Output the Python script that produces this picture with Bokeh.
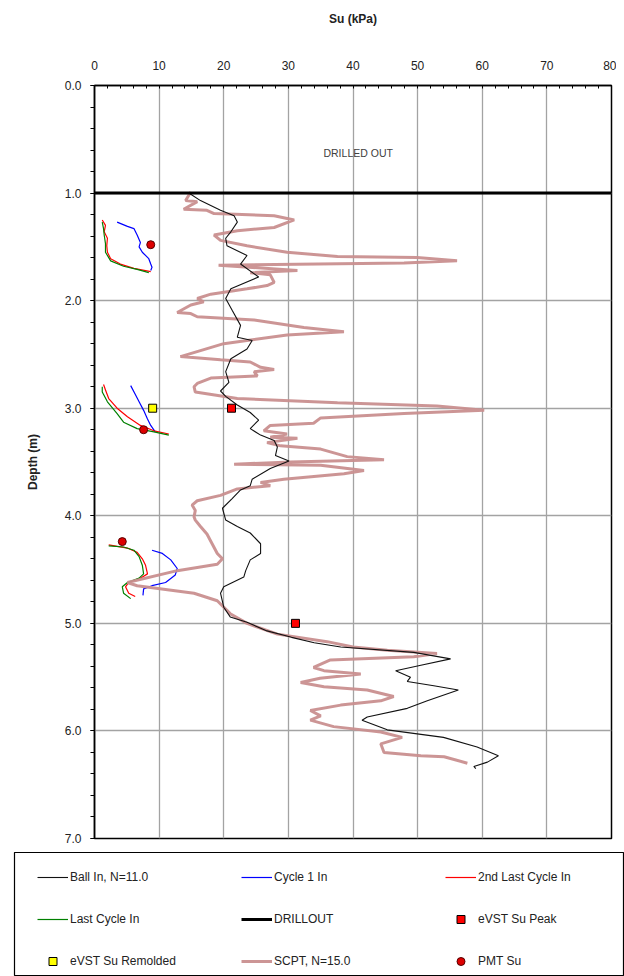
from bokeh.plotting import figure
from bokeh.models import (Range1d, SingleIntervalTicker, Legend, LegendItem,
                          PrintfTickFormatter)
from bokeh.layouts import column
from bokeh.core.properties import value
from bokeh.embed import file_html
from bokeh.resources import INLINE

nan = float("nan")

# ---------------- data ----------------
su_ticks = [0, 10, 20, 30, 40, 50, 60, 70, 80]
depth_ticks = [0.0, 1.0, 2.0, 3.0, 4.0, 5.0, 6.0, 7.0]

ball_su = [14.6, 16.4, 19.5, 21.6, 22.1, 21.1, 20.3, 20.5, 23.6, 22.6, 25.4, 21.1, 20.3,
           21.3, 22.6, 22.1, 24.4, 23.6, 21.1, 20.3, 20.8, 19.5, 20.3, 22.1, 24.1, 25.4,
           24.1, 25.7, 27.8, 28.3, 28.0, 30.1, 27.2, 24.4, 24.1, 22.6, 21.3, 19.8, 20.3,
           22.1, 24.1, 25.7, 25.7, 24.1, 23.4, 23.1, 20.0, 19.5, 20.0, 21.0, 23.6, 26.7,
           30.5, 34.0, 38.1, 49.4, 55.1, 50.5, 46.6, 48.9, 48.4, 52.5, 56.3, 51.5, 48.4,
           42.2, 41.4, 45.3, 54.0, 59.2, 62.5, 60.8, 58.7, 59.0]
ball_depth = [1.00, 1.07, 1.16, 1.21, 1.27, 1.36, 1.42, 1.49, 1.58, 1.66, 1.78, 1.89, 1.98,
              2.09, 2.23, 2.34, 2.37, 2.45, 2.54, 2.66, 2.76, 2.84, 2.89, 2.97, 3.04, 3.11,
              3.19, 3.25, 3.30, 3.36, 3.44, 3.49, 3.56, 3.66, 3.72, 3.76, 3.84, 3.93, 4.04,
              4.10, 4.16, 4.26, 4.35, 4.41, 4.51, 4.57, 4.66, 4.72, 4.85, 4.94, 4.99, 5.07,
              5.13, 5.18, 5.22, 5.27, 5.33, 5.39, 5.44, 5.50, 5.54, 5.58, 5.62, 5.72, 5.79,
              5.87, 5.90, 5.99, 6.06, 6.15, 6.23, 6.29, 6.33, 6.35]

cycle1_su = [3.5, 5.1, 6.1, 6.6, 7.1, 6.9, 7.4, 8.4, 8.7, 8.9, 8.7, nan,
             5.6, 6.3, 6.9, 7.6, 8.2, 8.7, 9.4, nan,
             8.9, 10.5, 11.8, 12.8, 12.5, 11.0, 8.9, 7.6, 7.5]
cycle1_depth = [1.27, 1.31, 1.33, 1.39, 1.46, 1.50, 1.55, 1.61, 1.66, 1.69, 1.72, nan,
                2.79, 2.87, 2.94, 3.02, 3.10, 3.16, 3.22, nan,
                4.32, 4.35, 4.41, 4.49, 4.55, 4.62, 4.65, 4.68, 4.74]

second_last_su = [1.2, 1.7, 1.5, 2.0, 1.9, 2.0, 2.5, 4.0, 6.1, 8.7, nan,
                  1.4, 1.7, 2.2, 3.5, 5.1, 7.1, 9.2, 11.5, nan,
                  2.2, 5.1, 6.6, 7.4, 7.9, 8.2, 7.1, 5.3, 4.8, 5.3, 6.3]
second_last_depth = [1.25, 1.30, 1.36, 1.42, 1.49, 1.55, 1.61, 1.66, 1.70, 1.73, nan,
                     2.78, 2.83, 2.91, 3.00, 3.08, 3.16, 3.21, 3.24, nan,
                     4.27, 4.30, 4.34, 4.40, 4.46, 4.54, 4.58, 4.62, 4.66, 4.72, 4.75]

last_su = [1.2, 1.4, 1.5, 1.7, 1.7, 2.5, 4.5, 6.6, 8.4, nan,
           1.2, 1.2, 2.0, 3.5, 4.5, 6.6, 9.2, 11.5, nan,
           2.2, 4.5, 6.1, 6.9, 7.4, 7.6, 6.9, 5.1, 4.3, 4.5, 5.6]
last_depth = [1.27, 1.33, 1.39, 1.47, 1.55, 1.63, 1.68, 1.71, 1.74, nan,
              2.80, 2.85, 2.94, 3.05, 3.13, 3.19, 3.22, 3.25, nan,
              4.28, 4.29, 4.32, 4.38, 4.46, 4.54, 4.58, 4.62, 4.66, 4.72, 4.77]

drillout_su = [0, 80]
drillout_depth = [1.0, 1.0]

scpt_su = [14.9, 14.1, 15.9, 13.8, 17.4, 18.5, 27.8, 30.9, 27.8, 22.1, 18.5, 19.5, 23.6,
           29.8, 37.6, 49.9, 56.1, 47.9, 19.2, 31.4, 24.1, 27.2, 27.8, 26.7, 23.6, 18.0,
           15.9, 16.9, 14.9, 12.8, 14.9, 15.9, 24.7, 32.4, 38.6, 29.8, 20.0, 13.3, 19.5,
           24.1, 25.7, 27.8, 24.7, 25.2, 18.0, 15.9, 15.4, 15.6, 22.1, 37.6, 53.0, 60.3,
           47.9, 35.0, 33.9, 27.2, 26.2, 29.8, 27.2, 31.4, 26.7, 28.8, 35.0, 39.1, 44.8,
           30.3, 21.6, 35.0, 41.7, 38.6, 29.3, 25.7, 27.2, 22.1, 19.5, 15.9, 15.1, 15.6,
           15.4, 15.6, 16.4, 17.4, 18.2, 19.0, 19.8, 19.0, 12.8, 5.1, 6.6, 15.4, 19.0,
           21.0, 23.6, 28.3, 36.0, 40.0, 45.3, 53.0, 49.4, 36.5, 33.9, 35.5, 41.2, 34.9,
           31.9, 35.5, 42.2, 46.3, 44.3, 38.1, 33.4, 35.0, 33.4, 37.0, 44.3, 47.6, 44.3,
           44.8, 50.5, 54.1, 57.7]
scpt_depth = [0.99, 1.07, 1.08, 1.15, 1.16, 1.19, 1.21, 1.25, 1.32, 1.35, 1.39, 1.44, 1.49,
              1.55, 1.59, 1.60, 1.63, 1.65, 1.67, 1.72, 1.74, 1.76, 1.83, 1.86, 1.89, 1.94,
              1.98, 2.01, 2.04, 2.11, 2.12, 2.15, 2.18, 2.25, 2.29, 2.32, 2.40, 2.52, 2.55,
              2.57, 2.62, 2.64, 2.66, 2.70, 2.72, 2.77, 2.80, 2.85, 2.91, 2.95, 2.98, 3.02,
              3.05, 3.09, 3.14, 3.16, 3.21, 3.24, 3.27, 3.28, 3.32, 3.35, 3.38, 3.45, 3.48,
              3.50, 3.52, 3.53, 3.58, 3.61, 3.66, 3.69, 3.72, 3.75, 3.81, 3.86, 3.90, 3.95,
              4.01, 4.04, 4.10, 4.17, 4.26, 4.35, 4.40, 4.45, 4.51, 4.62, 4.65, 4.72, 4.79,
              4.91, 5.00, 5.10, 5.17, 5.22, 5.25, 5.28, 5.31, 5.34, 5.41, 5.44, 5.47, 5.51,
              5.55, 5.59, 5.62, 5.68, 5.72, 5.76, 5.81, 5.86, 5.90, 5.96, 6.01, 6.06, 6.12,
              6.20, 6.23, 6.24, 6.30]

evst_peak_su = [21.2, 31.1]
evst_peak_depth = [3.0, 5.0]
evst_rem_su = [9.0]
evst_rem_depth = [3.0]
pmt_su = [8.7, 7.6, 4.3]
pmt_depth = [1.48, 3.20, 4.24]

note_text = ["DRILLED OUT"]
note_su = [40.8]
note_depth = [0.63]

legend_labels = ["Ball In, N=11.0", "Cycle 1 In", "2nd Last Cycle In",
                 "Last Cycle In", "DRILLOUT", "eVST Su Peak",
                 "eVST Su Remolded", "SCPT, N=15.0", "PMT Su"]

FONT = "Liberation Sans"

# styles
ST_BALL = dict(line_color="#111111", line_width=1.1)
ST_CYC1 = dict(line_color="#0000ff", line_width=1.2)
ST_2ND = dict(line_color="#ff0000", line_width=1.2)
ST_LAST = dict(line_color="#008000", line_width=1.2)
ST_DRILL = dict(line_color="black", line_width=3)
ST_SCPT = dict(line_color="#c98f8f", line_width=3, line_alpha=0.95)
ST_PEAK = dict(marker="square", size=8, fill_color="#ff0000", line_color="black", line_width=1)
ST_REM = dict(marker="square", size=8, fill_color="#ffff00", line_color="black", line_width=1)
ST_PMT = dict(marker="circle", size=8, fill_color="#dd0000", line_color="#550000", line_width=1)

# ---------------- main figure ----------------
p = figure(width=616, height=852,
           x_range=Range1d(su_ticks[0], su_ticks[-1]),
           y_range=Range1d(depth_ticks[-1], depth_ticks[0]),
           x_axis_location="above",
           output_backend="svg", toolbar_location=None,
           min_border_left=94, min_border_right=5,
           min_border_top=85, min_border_bottom=14,
           background_fill_color="white", border_fill_color="white")
p.frame_align = False

p.outline_line_color = "black"
p.outline_line_width = 1.5

xax = p.xaxis[0]
xax.ticker = SingleIntervalTicker(interval=10, num_minor_ticks=5)
xax.axis_label = "Su (kPa)"
yax = p.yaxis[0]
yax.ticker = SingleIntervalTicker(interval=1, num_minor_ticks=5)
yax.formatter = PrintfTickFormatter(format="%.1f")
yax.axis_label = "Depth (m)"

for ax in (xax, yax):
    ax.axis_label_text_font = FONT
    ax.axis_label_text_font_size = "12px"
    ax.axis_label_text_font_style = "bold"
    ax.axis_label_text_color = "#222222"
    ax.major_label_text_font = FONT
    ax.major_label_text_font_size = "12px"
    ax.major_label_text_color = "#222222"
    ax.axis_line_color = "black"
    ax.axis_line_width = 1.5
    ax.major_tick_line_color = "black"
    ax.minor_tick_line_color = "black"

xax.major_tick_in = 0
xax.major_tick_out = 0
xax.minor_tick_in = 3
xax.minor_tick_out = 0
xax.major_label_standoff = 16
xax.axis_label_standoff = 32

yax.major_tick_in = 0
yax.major_tick_out = 4
yax.minor_tick_in = 0
yax.minor_tick_out = 4
yax.major_label_standoff = 9
yax.axis_label_standoff = 22

p.xgrid.ticker = SingleIntervalTicker(interval=10)
p.ygrid.ticker = SingleIntervalTicker(interval=1)
for g in (p.xgrid, p.ygrid):
    g.grid_line_color = "#a3a3a3"
    g.grid_line_width = 1.3

p.line(cycle1_su, cycle1_depth, **ST_CYC1)
p.line(second_last_su, second_last_depth, **ST_2ND)
p.line(last_su, last_depth, **ST_LAST)
p.line(scpt_su, scpt_depth, **ST_SCPT)
p.line(ball_su, ball_depth, **ST_BALL)
p.line(drillout_su, drillout_depth, **ST_DRILL)
p.scatter(evst_peak_su, evst_peak_depth, **ST_PEAK)
p.scatter(evst_rem_su, evst_rem_depth, **ST_REM)
p.scatter(pmt_su, pmt_depth, **ST_PMT)

p.text(note_su, note_depth, text=note_text, text_font=value(FONT),
       text_font_size="10.5px", text_color="#404040",
       text_align="center", text_baseline="middle")

# ---------------- legend panel ----------------
LH = 124
q = figure(width=624, height=LH, x_range=Range1d(0, 1), y_range=Range1d(0, 1),
           x_axis_type=None, y_axis_type=None,
           output_backend="svg", toolbar_location=None,
           min_border_left=14, min_border_right=0, min_border_top=0, min_border_bottom=0,
           background_fill_color="white", border_fill_color="white")
q.frame_align = False
q.outline_line_color = "black"
q.outline_line_width = 1.2
q.grid.visible = False

lr_ball = q.line([nan], [nan], **ST_BALL)
lr_cyc1 = q.line([nan], [nan], **ST_CYC1)
lr_2nd = q.line([nan], [nan], **ST_2ND)
lr_last = q.line([nan], [nan], **ST_LAST)
lr_drill = q.line([nan], [nan], **ST_DRILL)
lr_peak = q.scatter([nan], [nan], **ST_PEAK)
lr_rem = q.scatter([nan], [nan], **ST_REM)
lr_scpt = q.line([nan], [nan], **ST_SCPT)
lr_pmt = q.scatter([nan], [nan], **ST_PMT)

rends = [lr_ball, lr_cyc1, lr_2nd, lr_last, lr_drill, lr_peak, lr_rem, lr_scpt, lr_pmt]
items = [LegendItem(label=lab, renderers=[r]) for lab, r in zip(legend_labels, rends)]

legend = Legend(items=items, orientation="horizontal", ncols=3,
                location=(23, -3),
                padding=0, spacing=6, margin=0,
                glyph_width=31, glyph_height=20,
                label_width=165, label_height=36, label_standoff=2,
                label_text_font=FONT, label_text_font_size="12px",
                label_text_color="#222222",
                border_line_color=None,
                background_fill_alpha=0.0)
q.add_layout(legend, "center")

layout = column(p, q, spacing=0)
open("out.html", "w").write(file_html(layout, INLINE))
